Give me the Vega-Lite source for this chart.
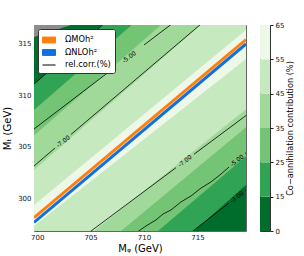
{
  "$schema": "https://vega.github.io/schema/vega-lite/v6.json",
  "padding": {"left": 2, "top": 20, "right": 0, "bottom": 0},
  "spacing": 12,
  "config": {
    "font": "DejaVu Sans",
    "view": {"stroke": null},
    "axis": {"labelColor": "#111", "titleColor": "#000", "tickColor": "#222", "titleFontWeight": "normal", "grid": false, "domain": false}
  },
  "datasets": {
    "bands": [
      {"band": "0-15", "x": 699.7, "y": 280, "hi": 340},
      {"band": "0-15", "x": 719.55, "y": 280, "hi": 340},
      {"band": "15-25", "x": 699.7, "y": 283.05, "hi": 311.07},
      {"band": "15-25", "x": 719.55, "y": 301.27, "hi": 328.98},
      {"band": "25-35", "x": 699.7, "y": 286.57, "hi": 308.55},
      {"band": "25-35", "x": 719.55, "y": 304.06, "hi": 326.45},
      {"band": "35-45", "x": 699.7, "y": 289.79, "hi": 306.07},
      {"band": "35-45", "x": 719.55, "y": 306.87, "hi": 323.98},
      {"band": "45-55", "x": 699.7, "y": 292.14, "hi": 302.72},
      {"band": "45-55", "x": 719.55, "y": 308.61, "hi": 320.63},
      {"band": "55-65", "x": 699.7, "y": 297.29, "hi": 299.32},
      {"band": "55-65", "x": 719.55, "y": 313.5, "hi": 316.31},
      {"band": "nan", "x": 699.7, "y": 315.63, "hi": 340},
      {"band": "nan", "x": 703.16, "y": 316.8, "hi": 340}
    ],
    "contours": [
      {"seg": "U3", "x": 699.7, "y": 311.07},
      {"seg": "U3", "x": 706.44, "y": 317.09},
      {"seg": "U5a", "x": 699.7, "y": 306.7},
      {"seg": "U5a", "x": 707.19, "y": 312.63},
      {"seg": "U5b", "x": 710.0, "y": 314.86},
      {"seg": "U5b", "x": 712.71, "y": 316.99},
      {"seg": "U7a", "x": 699.7, "y": 303.11},
      {"seg": "U7a", "x": 701.67, "y": 304.86},
      {"seg": "U7b", "x": 703.16, "y": 306.17},
      {"seg": "U7b", "x": 715.34, "y": 316.9},
      {"seg": "L7a", "x": 704.85, "y": 296.65},
      {"seg": "L7a", "x": 713.0, "y": 302.95},
      {"seg": "L7b", "x": 714.68, "y": 304.25},
      {"seg": "L7b", "x": 719.64, "y": 308.08},
      {"seg": "L5a", "x": 709.25, "y": 296.61},
      {"seg": "L5a", "x": 710.19, "y": 297.29},
      {"seg": "L5a", "x": 711.12, "y": 297.87},
      {"seg": "L5a", "x": 711.78, "y": 298.45},
      {"seg": "L5a", "x": 712.53, "y": 298.84},
      {"seg": "L5a", "x": 713.46, "y": 299.62},
      {"seg": "L5a", "x": 714.4, "y": 300.2},
      {"seg": "L5a", "x": 715.34, "y": 300.97},
      {"seg": "L5a", "x": 716.27, "y": 301.56},
      {"seg": "L5a", "x": 717.21, "y": 302.33},
      {"seg": "L5a", "x": 717.96, "y": 303.01},
      {"seg": "L5b", "x": 719.46, "y": 304.32},
      {"seg": "L5b", "x": 719.64, "y": 304.47},
      {"seg": "L3a", "x": 714.4, "y": 296.65},
      {"seg": "L3a", "x": 717.96, "y": 299.52},
      {"seg": "L3b", "x": 719.46, "y": 300.72},
      {"seg": "L3b", "x": 719.64, "y": 300.88}
    ],
    "clabels": [
      {"lab": "-5.00", "x": 708.6, "y": 313.69},
      {"lab": "-7.00", "x": 702.42, "y": 305.5},
      {"lab": "-7.00", "x": 713.84, "y": 303.6},
      {"lab": "-5.00", "x": 718.71, "y": 303.64},
      {"lab": "-3.00", "x": 718.71, "y": 300.1}
    ],
    "relic": [
      {"series": "ΩMOh²", "x": 699.7, "y": 298.09},
      {"series": "ΩMOh²", "x": 719.55, "y": 315.38},
      {"series": "ΩNLOh²", "x": 699.7, "y": 297.63},
      {"series": "ΩNLOh²", "x": 719.55, "y": 314.96}
    ],
    "bar": [
      {"band": "0-15", "lo": 0, "hi": 1},
      {"band": "15-25", "lo": 1, "hi": 2},
      {"band": "25-35", "lo": 2, "hi": 3},
      {"band": "35-45", "lo": 3, "hi": 4},
      {"band": "45-55", "lo": 4, "hi": 5},
      {"band": "55-65", "lo": 5, "hi": 6}
    ]
  },
  "resolve": {"scale": {"stroke": "independent"}, "legend": {"stroke": "independent"}},
  "hconcat": [
    {
      "width": 212,
      "height": 206,
      "view": {"stroke": "#666", "strokeWidth": 1},
      "encoding": {
        "x": {"field": "x", "type": "quantitative",
          "scale": {"domain": [699.7, 719.55], "nice": false, "zero": false},
          "axis": {"title": "Mᵩ (GeV)", "values": [700, 705, 710, 715], "format": "d", "tickSize": -3, "labelPadding": 5, "labelFontSize": 7, "titleFontSize": 10, "titlePadding": 3}},
        "y": {"field": "y", "type": "quantitative",
          "scale": {"domain": [296.8, 316.8], "nice": false, "zero": false},
          "axis": {"title": "Mₜ (GeV)", "values": [300, 305, 310, 315], "format": "d", "tickSize": -3, "labelPadding": 6, "labelFontSize": 7, "titleFontSize": 10, "titlePadding": 5}}
      },
      "layer": [
        {
          "data": {"name": "bands"},
          "mark": {"type": "area", "clip": true, "orient": "vertical"},
          "encoding": {
            "y2": {"field": "hi"},
            "detail": {"field": "band"},
            "fill": {"field": "band", "type": "nominal",
              "scale": {"domain": ["0-15", "15-25", "25-35", "35-45", "45-55", "55-65", "nan"],
                        "range": ["#006d2c", "#31a354", "#74c476", "#a1d99b", "#c7e9c0", "#edf8e9", "#8c8c8c"]},
              "legend": null}
          }
        },
        {
          "data": {"name": "contours"},
          "mark": {"type": "line", "clip": true, "strokeWidth": 0.8},
          "encoding": {
            "detail": {"field": "seg"},
            "stroke": {"datum": "rel.corr.(%)", "type": "nominal",
              "scale": {"domain": ["ΩMOh²", "ΩNLOh²", "rel.corr.(%)"], "range": ["#ff7f0e", "#1170dd", "#000000"]}}
          }
        },
        {
          "data": {"name": "clabels"},
          "mark": {"type": "text", "angle": -38, "fontSize": 6, "fill": "#000", "align": "center", "baseline": "middle"},
          "encoding": {"text": {"field": "lab"}}
        },
        {
          "data": {"name": "relic"},
          "mark": {"type": "line", "clip": true, "strokeWidth": 3},
          "encoding": {
            "stroke": {"field": "series", "type": "nominal",
              "scale": {"domain": ["ΩMOh²", "ΩNLOh²", "rel.corr.(%)"], "range": ["#ff7f0e", "#1170dd", "#000000"]},
              "legend": {
                "orient": "top-left", "offset": 4, "title": null,
                "fillColor": "white", "strokeColor": "#333", "cornerRadius": 2, "padding": 4,
                "symbolSize": 169, "labelFontSize": 8.3, "labelColor": "#000", "labelOffset": 9, "rowPadding": 0.5,
                "encode": {
                  "symbols": {
                    "update": {
                      "shape": {"signal": "datum.value === 'rel.corr.(%)' ? 'stroke' : 'M-1,-0.45H1V0.45H-1Z'"},
                      "fill": {"signal": "datum.value === 'rel.corr.(%)' ? 'transparent' : (datum.value === 'ΩMOh²' ? '#ff7f0e' : '#1170dd')"},
                      "stroke": {"signal": "datum.value === 'rel.corr.(%)' ? '#000' : '#222'"},
                      "strokeWidth": {"value": 1},
                      "opacity": {"value": 1}
                    }
                  }
                }
              }}
          }
        }
      ]
    },
    {
      "width": 10,
      "height": 206,
      "view": {"stroke": "#333", "strokeWidth": 1},
      "data": {"name": "bar"},
      "mark": "rect",
      "encoding": {
        "y": {"field": "lo", "type": "quantitative",
          "scale": {"domain": [0, 6], "nice": false, "zero": false},
          "axis": {"orient": "right", "values": [0, 1, 2, 3, 4, 5, 6],
            "labelExpr": "['0','15','25','35','45','55','65'][datum.value]",
            "title": "Co−annihilation contribution (%)", "titleAngle": 270, "titleBaseline": "bottom", "titleFontSize": 8.2,
            "labelFontSize": 7, "tickSize": 3, "labelPadding": 2, "titlePadding": 11}},
        "y2": {"field": "hi"},
        "fill": {"field": "band", "type": "nominal",
          "scale": {"domain": ["0-15", "15-25", "25-35", "35-45", "45-55", "55-65", "nan"],
                    "range": ["#006d2c", "#31a354", "#74c476", "#a1d99b", "#c7e9c0", "#edf8e9", "#8c8c8c"]},
          "legend": null}
      }
    }
  ]
}
